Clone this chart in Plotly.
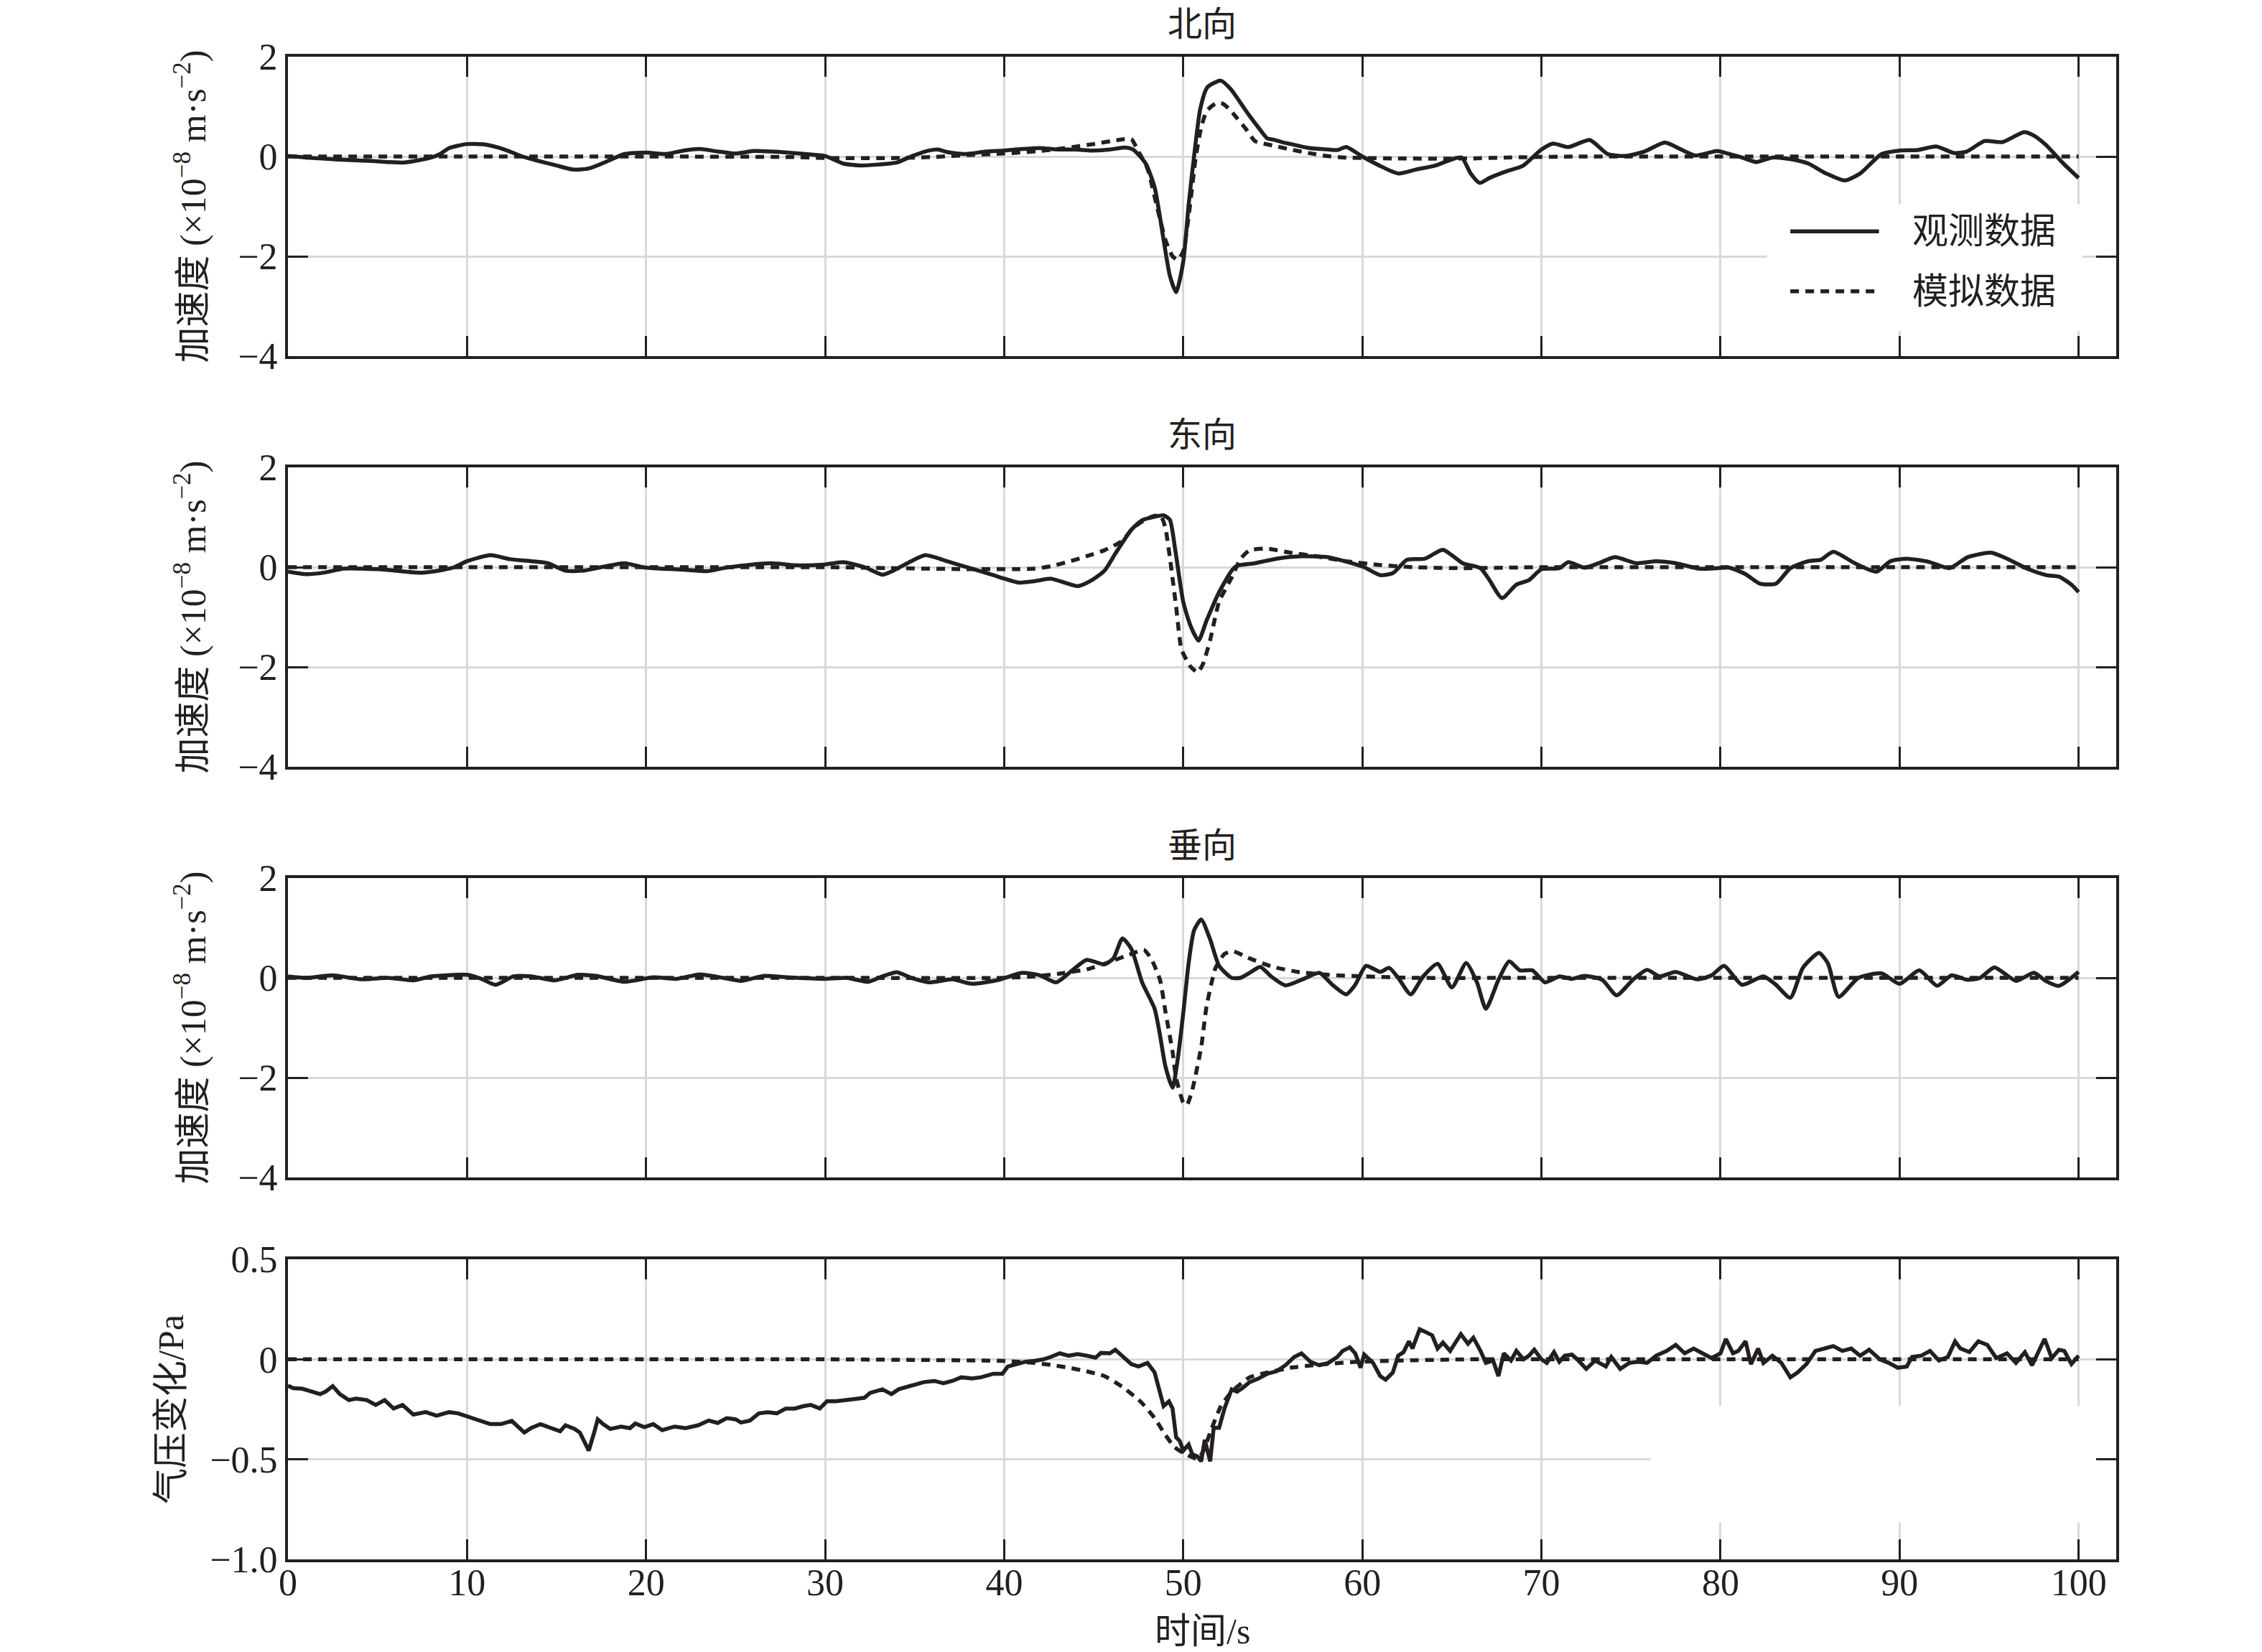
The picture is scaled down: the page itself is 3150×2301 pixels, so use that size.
import plotly.graph_objects as go

# ---------------- data ----------------
# Panel 1: 北向 (north)
t_n_obs = [0, 1.0, 2.8, 4.7, 6.5, 8.0, 8.5, 9.0, 10.0, 11.0, 12.1, 13.1, 14.0, 14.9, 15.9, 16.8, 17.8, 18.8,
           20.0, 21.1, 22.1, 23.0, 24.0, 25.0, 26.0, 27.0, 27.9, 28.9, 30.0, 31.0, 32.0, 33.0, 34.0, 34.8,
           35.8, 36.3, 36.8, 37.8, 39.0, 40.0, 41.0, 42.0, 43.0, 44.0, 44.9, 45.9, 46.7, 47.2, 47.9, 48.4,
           48.9, 49.25, 49.6, 50.0, 50.3, 50.6, 50.95, 51.35, 52.1, 52.65, 53.15, 53.65, 54.2, 54.7, 55.0,
           55.5, 56.0, 57.05, 58.1, 58.6, 59.1, 60.0, 61.0, 62.0, 63.0, 64.0, 65.05, 65.55, 66.05, 66.55,
           67.1, 68.1, 68.95, 70.0, 70.65, 71.5, 72.7, 73.7, 74.7, 75.75, 76.9, 77.8, 78.6, 79.8, 80.3,
           81.2, 82.0, 82.9, 84.05, 84.9, 85.9, 86.95, 87.8, 89.0, 90.0, 91.0, 92.05, 93.05, 93.75, 94.75,
           95.75, 96.95, 97.45, 98.15, 99.15, 100.0]
v_n_obs = [0.01, -0.02, -0.06, -0.09, -0.12, -0.02, 0.05, 0.17, 0.25, 0.24, 0.14, 0.0, -0.09, -0.17, -0.26,
           -0.24, -0.10, 0.05, 0.08, 0.05, 0.12, 0.15, 0.10, 0.06, 0.11, 0.10, 0.08, 0.05, 0.01, -0.14, -0.18,
           -0.16, -0.12, 0.0, 0.12, 0.14, 0.09, 0.05, 0.10, 0.12, 0.15, 0.17, 0.14, 0.14, 0.12, 0.14, 0.18,
           0.14, -0.14, -0.62, -1.67, -2.39, -2.72, -2.1, -0.96, 0.0, 0.96, 1.39, 1.52, 1.35, 1.10, 0.84, 0.58,
           0.36, 0.34, 0.29, 0.25, 0.17, 0.14, 0.13, 0.19, 0.0, -0.19, -0.34, -0.26, -0.19, -0.05, -0.02,
           -0.34, -0.53, -0.43, -0.29, -0.19, 0.14, 0.26, 0.19, 0.33, 0.05, 0.01, 0.10, 0.28, 0.14, 0.02,
           0.11, 0.07, -0.02, -0.11, -0.02, -0.06, -0.14, -0.34, -0.48, -0.34, 0.05, 0.12, 0.13, 0.20, 0.07,
           0.10, 0.31, 0.29, 0.49, 0.43, 0.24, -0.14, -0.43]
t_n_sim = [0, 10, 20, 28, 30, 34, 36, 38, 40, 42, 43, 44, 45, 46, 46.7, 47.1, 47.5, 48.0, 48.5, 49.0, 49.4,
           49.7, 50.0, 50.3, 50.7, 51.0, 51.3, 51.8, 52.2, 52.6, 53.0, 53.5, 54.0, 55.0, 56.0, 57.0, 58.0,
           59.0, 62, 66, 68, 72, 80, 90, 100]
v_n_sim = [0, 0, 0, -0.01, -0.03, -0.03, -0.01, 0.03, 0.06, 0.11, 0.15, 0.2, 0.25, 0.31, 0.35, 0.35, 0.1,
           -0.24, -0.96, -1.67, -2.0, -2.07, -1.9, -1.2, 0.0, 0.58, 0.91, 1.06, 1.06, 0.94, 0.77, 0.55, 0.31,
           0.22, 0.14, 0.07, 0.01, -0.02, -0.04, -0.04, -0.02, 0, 0, 0, 0]

# Panel 2: 东向 (east)
t_e_obs = [0, 1.0, 2.0, 3.1, 4.1, 5.1, 6.0, 7.5, 8.7, 9.3, 10.0, 11.3, 12.4, 13.6, 14.5, 15.5, 16.5, 17.5,
           18.8, 19.8, 20.8, 22.1, 23.4, 24.3, 25.3, 27.0, 28.3, 29.9, 31.0, 32.2, 33.2, 33.8, 34.8, 35.6,
           36.8, 38.1, 39.4, 40.0, 40.8, 41.7, 42.6, 44.1, 44.8, 45.6, 46.2, 47.1, 47.7, 48.4, 48.9, 49.25,
           49.55, 50.0, 50.4, 50.85, 51.3, 52.0, 52.7, 53.0, 54.0, 55.2, 56.6, 58.1, 59.4, 60.1, 61.0, 61.7,
           62.5, 63.5, 64.5, 65.6, 66.6, 67.1, 67.8, 68.6, 69.3, 70.0, 71.0, 71.5, 72.4, 73.2, 74.1, 75.3,
           76.4, 77.5, 78.8, 79.8, 80.5, 81.4, 82.2, 83.1, 83.9, 84.9, 85.6, 86.3, 87.5, 88.7, 89.5, 90.4,
           91.6, 92.8, 93.8, 95.1, 96.0, 97.2, 98.2, 98.9, 99.6, 100.0]
v_e_obs = [-0.09, -0.14, -0.11, -0.03, -0.03, -0.04, -0.07, -0.11, -0.05, 0.0, 0.12, 0.24, 0.16, 0.12, 0.08,
           -0.07, -0.07, 0.0, 0.08, 0.0, -0.03, -0.05, -0.08, -0.02, 0.03, 0.08, 0.04, 0.05, 0.10, 0.0, -0.15,
           -0.07, 0.12, 0.24, 0.12, -0.02, -0.16, -0.23, -0.31, -0.28, -0.23, -0.38, -0.28, -0.07, 0.27, 0.75,
           0.94, 1.01, 1.04, 0.95, 0.35, -0.7, -1.17, -1.47, -1.07, -0.50, -0.07, 0.03, 0.08, 0.17, 0.22, 0.20,
           0.08, 0.0, -0.16, -0.12, 0.15, 0.17, 0.35, 0.08, -0.02, -0.26, -0.62, -0.35, -0.26, -0.04, -0.02,
           0.10, -0.01, 0.08, 0.20, 0.08, 0.12, 0.08, -0.03, -0.02, -0.01, -0.14, -0.33, -0.33, -0.02, 0.12,
           0.15, 0.31, 0.08, -0.09, 0.12, 0.17, 0.11, -0.02, 0.20, 0.29, 0.17, -0.04, -0.16, -0.19, -0.35,
           -0.50]
t_e_sim = [0, 10, 20, 30, 34, 38, 40.5, 41.7, 42.6, 43.6, 44.6, 45.6, 46.6, 47.2, 47.9, 48.4, 48.75, 49.0,
           49.25, 49.6, 49.9, 50.4, 50.8, 51.1, 51.5, 52.0, 52.7, 53.2, 53.7, 54.7, 56.0, 57.4, 59.1, 60.8,
           62.8, 65.6, 70, 80, 90, 100]
v_e_sim = [0, 0, 0, 0, -0.02, -0.04, -0.04, -0.03, 0.02, 0.11, 0.22, 0.34, 0.53, 0.79, 0.96, 1.03, 1.03,
           0.79, 0.2, -0.79, -1.65, -1.99, -2.11, -1.94, -1.46, -0.69, -0.21, 0.17, 0.34, 0.37, 0.29, 0.22,
           0.12, 0.05, 0.0, -0.02, 0, 0, 0, 0]

# Panel 3: 垂向 (vertical)
t_u_obs = [0, 1.0, 2.5, 4.1, 5.6, 7.0, 8.0, 10.0, 10.8, 11.6, 12.6, 13.6, 14.9, 16.2, 17.2, 18.8, 20.4, 21.7,
           23.0, 24.3, 25.3, 26.6, 27.9, 29.9, 31.2, 32.4, 33.2, 34.0, 34.8, 35.8, 37.1, 38.2, 39.7, 41.0,
           42.0, 42.9, 43.8, 44.6, 45.6, 46.1, 46.6, 47.1, 47.7, 48.4, 48.7, 49.0, 49.4, 49.7, 50.0, 50.3,
           50.6, 51.0, 51.5, 52.0, 52.7, 53.2, 53.7, 54.3, 54.9, 55.7, 56.6, 57.6, 58.3, 59.1, 59.6, 60.2,
           61.0, 61.5, 62.0, 62.7, 63.4, 64.2, 65.0, 65.8, 66.4, 66.9, 67.6, 68.2, 68.8, 69.5, 70.2, 71.0,
           71.7, 72.4, 73.4, 74.2, 75.1, 75.9, 76.6, 77.5, 78.7, 79.5, 80.2, 81.2, 82.4, 83.1, 83.9, 84.6,
           85.5, 86.0, 86.6, 87.7, 89.0, 90.0, 91.1, 92.1, 92.9, 93.8, 94.5, 95.3, 96.5, 97.5, 98.2, 98.9,
           100.0]
v_u_obs = [0.03, 0.0, 0.05, -0.03, 0.0, -0.05, 0.03, 0.06, -0.02, -0.14, 0.03, 0.03, -0.05, 0.06, 0.04, -0.08,
           0.01, -0.02, 0.07, 0.0, -0.06, 0.04, 0.01, -0.02, 0.0, -0.08, 0.03, 0.11, 0.0, -0.09, -0.03, -0.12,
           -0.04, 0.10, 0.05, -0.09, 0.15, 0.36, 0.27, 0.39, 0.79, 0.58, -0.09, -0.62, -1.15, -1.77, -2.20,
           -1.6, -0.7, 0.3, 0.95, 1.17, 0.77, 0.24, 0.0, 0.0, 0.10, 0.22, 0.03, -0.15, -0.04, 0.10, -0.13,
           -0.33, -0.14, 0.24, 0.12, 0.20, 0.0, -0.33, 0.03, 0.28, -0.19, 0.30, -0.09, -0.62, -0.04, 0.33,
           0.15, 0.15, -0.09, 0.03, -0.02, 0.04, -0.04, -0.35, -0.04, 0.16, 0.03, 0.12, -0.03, 0.05, 0.24,
           -0.14, 0.03, -0.14, -0.40, 0.20, 0.50, 0.29, -0.38, 0.0, 0.09, -0.12, 0.15, -0.16, 0.05, -0.04,
           0.0, 0.21, -0.06, 0.10, -0.07, -0.16, 0.12]
t_u_sim = [0, 10, 20, 30, 40, 41.7, 43.0, 44.6, 45.9, 47.1, 47.8, 48.2, 48.7, 49.0, 49.4, 49.6, 50.0, 50.2,
           50.5, 51.0, 51.3, 51.8, 52.3, 52.8, 53.7, 55.0, 56.4, 58.1, 60.1, 62.8, 70, 80, 90, 100]
v_u_sim = [0, 0, 0, 0, 0.0, 0.03, 0.08, 0.17, 0.32, 0.48, 0.56, 0.39, -0.04, -0.67, -1.48, -2.01, -2.5,
           -2.55, -2.25, -1.39, -0.57, 0.20, 0.48, 0.53, 0.39, 0.22, 0.12, 0.06, 0.03, 0.0, 0, 0, 0, 0]

# Panel 4: 气压变化 (pressure change)
t_p_obs = [0, 0.3, 0.8, 1.3, 1.8, 2.1, 2.5, 2.9, 3.4, 3.8, 4.4, 4.9, 5.4, 5.9, 6.4, 7.0, 7.7, 8.3, 9.0, 9.5,
           10.1, 10.8, 11.3, 11.9, 12.5, 13.2, 13.6, 14.1, 14.7, 15.2, 15.5, 16.0, 16.3, 16.6, 16.8, 17.1,
           17.3, 17.6, 18.0, 18.6, 19.1, 19.4, 19.9, 20.4, 20.9, 21.6, 22.2, 22.9, 23.5, 24.0, 24.5, 25.0,
           25.3, 25.8, 26.3, 26.8, 27.3, 27.8, 28.3, 28.8, 29.2, 29.7, 30.1, 30.6, 31.0, 31.7, 32.2, 32.5,
           33.2, 33.7, 34.1, 34.8, 35.5, 36.1, 36.6, 37.1, 37.6, 38.2, 38.7, 39.4, 39.9, 40.2, 40.7, 41.2,
           41.7, 42.2, 42.6, 43.1, 43.6, 44.1, 44.6, 45.1, 45.4, 45.9, 46.2, 46.6, 47.1, 47.5, 48.0, 48.4,
           48.7, 48.9, 49.2, 49.4, 49.6, 49.8, 50.0, 50.3, 50.5, 50.8, 51.0, 51.2, 51.5, 51.7, 52.0, 52.3,
           52.7, 53.0, 53.3, 53.7, 54.2, 54.7, 55.2, 55.7, 56.2, 56.6, 57.1, 57.6, 58.1, 58.6, 58.9, 59.3,
           59.6, 59.9, 60.1, 60.6, 61.0, 61.3, 61.7, 62.0, 62.3, 62.6, 62.8, 63.2, 63.5, 63.9, 64.2, 64.5,
           64.9, 65.2, 65.5, 65.9, 66.2, 66.6, 66.9, 67.3, 67.6, 67.9, 68.3, 68.6, 69.0, 69.3, 69.6, 70.0,
           70.3, 70.7, 71.0, 71.3, 71.7, 72.0, 72.5, 73.0, 73.6, 73.9, 74.4, 74.9, 75.4, 75.9, 76.4, 77.0,
           77.5, 78.0, 78.5, 79.0, 79.5, 80.0, 80.3, 80.7, 81.0, 81.4, 81.7, 82.1, 82.4, 82.9, 83.4, 83.9,
           84.3, 84.8, 85.3, 85.8, 86.3, 86.8, 87.3, 87.8, 88.3, 88.9, 89.4, 89.9, 90.4, 90.7, 91.2, 91.7,
           92.2, 92.7, 93.1, 93.4, 93.9, 94.4, 94.9, 95.4, 96.0, 96.5, 97.0, 97.4, 97.8, 98.1, 98.5, 98.9,
           99.2, 99.6, 100.0]
v_p_obs = [-0.132, -0.144, -0.147, -0.162, -0.174, -0.162, -0.134, -0.174, -0.204, -0.196, -0.204, -0.228,
           -0.204, -0.246, -0.228, -0.276, -0.264, -0.282, -0.264, -0.270, -0.288, -0.306, -0.324, -0.324,
           -0.308, -0.366, -0.342, -0.324, -0.342, -0.360, -0.330, -0.348, -0.366, -0.414, -0.456, -0.366,
           -0.300, -0.324, -0.348, -0.336, -0.344, -0.321, -0.339, -0.324, -0.354, -0.336, -0.344, -0.330,
           -0.306, -0.318, -0.294, -0.300, -0.316, -0.306, -0.270, -0.264, -0.270, -0.246, -0.246, -0.234,
           -0.228, -0.246, -0.210, -0.210, -0.204, -0.198, -0.192, -0.168, -0.150, -0.174, -0.150, -0.132,
           -0.114, -0.108, -0.120, -0.108, -0.090, -0.096, -0.090, -0.072, -0.072, -0.036, -0.024, -0.012,
           -0.008, 0.0, 0.012, 0.030, 0.018, 0.026, 0.018, 0.008, 0.032, 0.030, 0.048, 0.018, -0.024, -0.036,
           -0.018, -0.066, -0.174, -0.234, -0.210, -0.246, -0.390, -0.408, -0.456, -0.426, -0.474, -0.486,
           -0.510, -0.402, -0.510, -0.342, -0.342, -0.246, -0.150, -0.162, -0.144, -0.114, -0.096, -0.072,
           -0.060, -0.030, 0.012, 0.030, -0.012, -0.030, -0.018, 0.012, 0.042, 0.060, 0.030, -0.042, 0.024,
           -0.018, -0.084, -0.102, -0.066, 0.018, 0.036, 0.090, 0.054, 0.150, 0.138, 0.120, 0.054, 0.084,
           0.042, 0.084, 0.126, 0.078, 0.108, 0.042, -0.018, -0.006, -0.084, 0.030, -0.006, 0.042, 0.0, 0.018,
           0.048, 0.0, -0.018, 0.036, -0.012, 0.018, 0.024, 0.0, -0.048, -0.006, -0.036, 0.012, -0.048, -0.018,
           -0.012, -0.018, 0.018, 0.042, 0.072, 0.030, 0.054, 0.030, 0.006, 0.030, 0.102, 0.030, 0.042, 0.090,
           -0.024, 0.054, -0.018, 0.018, -0.018, -0.090, -0.066, -0.024, 0.042, 0.054, 0.066, 0.042, 0.054,
           0.018, 0.048, 0.0, -0.018, -0.042, -0.036, 0.012, 0.018, 0.042, -0.006, 0.012, 0.090, 0.054, 0.036,
           0.090, 0.072, 0.006, 0.030, -0.018, 0.036, -0.030, 0.048, 0.102, 0.006, 0.048, 0.042, -0.024, 0.018]
t_p_sim = [0, 10, 20, 30, 35, 38.7, 39.9, 41.7, 42.6, 43.6, 44.6, 45.6, 46.6, 47.6, 48.4, 49.0, 49.5, 50.0,
           50.4, 50.8, 51.1, 51.6, 52.1, 52.7, 53.7, 54.7, 56.0, 57.4, 59.4, 62.2, 66, 70, 80, 90, 100]
v_p_sim = [0, 0, 0, 0, -0.003, -0.006, -0.008, -0.018, -0.028, -0.042, -0.060, -0.084, -0.138, -0.210,
           -0.294, -0.378, -0.438, -0.468, -0.485, -0.498, -0.462, -0.342, -0.234, -0.162, -0.090, -0.066,
           -0.042, -0.028, -0.014, -0.006, 0, 0, 0, 0, 0]

panel_titles = ["北向", "东向", "垂向", ""]
acc_label = "加速度 (×10<sup>−8</sup> m·s<sup>−2</sup>)"
y_labels = [acc_label, acc_label, acc_label, "气压变化/Pa"]
y_ranges = [[-4, 2], [-4, 2], [-4, 2], [-1.0, 0.5]]
y_tickvals = [[-4, -2, 0, 2]] * 3 + [[-1.0, -0.5, 0, 0.5]]
y_ticktext = [["−4", "−2", "0", "2"]] * 3 + [["−1.0", "−0.5", "0", "0.5"]]
x_tickvals = list(range(0, 101, 10))
x_label = "时间/s"
legend_names = ["观测数据", "模拟数据"]

series = [(t_n_obs, v_n_obs, t_n_sim, v_n_sim),
          (t_e_obs, v_e_obs, t_e_sim, v_e_sim),
          (t_u_obs, v_u_obs, t_u_sim, v_u_sim),
          (t_p_obs, v_p_obs, t_p_sim, v_p_sim)]

# ---------------- styling / layout ----------------
W, H = 3150, 2301
FONT = "Liberation Serif, Noto Sans CJK SC, serif"
INK = "#231f20"
GRID = "#d9d9d9"
TICK_FS = 52
LABEL_FS = 50
DASH = "12px,9px"
LW_OBS = 5.5
LW_SIM = 5.5

x_dom = [393 / W, 2939 / W]
panel_px = [(71, 488), (643, 1060), (1215, 1632), (1746, 2164)]
y_doms = [[1 - b / H, 1 - t / H] for t, b in panel_px]

fig = go.Figure()
for i, (to, vo, ts, vs) in enumerate(series, start=1):
    xa = "x" if i == 1 else f"x{i}"
    ya = "y" if i == 1 else f"y{i}"
    smooth = dict(shape="spline", smoothing=0.6) if i < 4 else dict(shape="linear")
    fig.add_trace(go.Scatter(x=to, y=vo, mode="lines", name=legend_names[0], showlegend=False,
                             line=dict(color=INK, width=LW_OBS, **smooth), xaxis=xa, yaxis=ya))
    fig.add_trace(go.Scatter(x=ts, y=vs, mode="lines", name=legend_names[1], showlegend=False,
                             line=dict(color=INK, width=LW_SIM, dash=DASH, shape="spline", smoothing=0.5),
                             xaxis=xa, yaxis=ya))

layout = dict(width=W, height=H, margin=dict(l=0, r=0, t=0, b=0), paper_bgcolor="white",
              plot_bgcolor="white", template="none", showlegend=False,
              font=dict(family=FONT, color=INK, size=LABEL_FS))
common = dict(showline=True, linecolor=INK, linewidth=4, mirror="ticks", ticks="inside", ticklen=28,
              tickwidth=3, tickcolor=INK, showgrid=True, gridcolor=GRID, gridwidth=2.5, zeroline=False,
              automargin=False, tickfont=dict(family=FONT, size=TICK_FS, color=INK))
for i in range(1, 5):
    xk = "xaxis" if i == 1 else f"xaxis{i}"
    yk = "yaxis" if i == 1 else f"yaxis{i}"
    layout[xk] = dict(common, domain=x_dom, range=[0, 102.1], anchor="y" if i == 1 else f"y{i}",
                      tickmode="array", tickvals=x_tickvals, showticklabels=(i == 4),
                      ticklabelstandoff=-16)
    layout[yk] = dict(common, domain=y_doms[i - 1], range=y_ranges[i - 1], anchor="x" if i == 1 else f"x{i}",
                      tickmode="array", tickvals=y_tickvals[i - 1], ticktext=y_ticktext[i - 1],
                      title=dict(text=y_labels[i - 1], font=dict(family=FONT, size=LABEL_FS, color=INK),
                                 standoff=30 if i < 4 else 22))
fig.update_layout(**layout)

xc = (x_dom[0] + x_dom[1]) / 2
annotations = []
for i, ttl in enumerate(panel_titles):
    if ttl:
        top = panel_px[i][0]
        annotations.append(dict(text=ttl, x=xc, y=1 - (top - 46) / H, xref="paper", yref="paper",
                                xanchor="center", yanchor="middle", showarrow=False,
                                font=dict(family=FONT, size=48, color=INK)))
annotations.append(dict(text=x_label, x=xc, y=1 - 2264 / H, xref="paper", yref="paper",
                        xanchor="center", yanchor="middle", showarrow=False,
                        font=dict(family=FONT, size=LABEL_FS, color=INK)))

# legend (drawn by hand so the line samples have the reference's length)
leg_rows = [-1.5, -2.7]
shapes = [
    dict(type="rect", xref="x", yref="y", x0=82.6, x1=100.2, y0=-3.5, y1=-0.96, layer="between",
         fillcolor="white", line=dict(width=0)),
    dict(type="rect", xref="x4", yref="y4", x0=76.1, x1=101.5, y0=-0.815, y1=-0.234, layer="between",
         fillcolor="white", line=dict(width=0)),
    dict(type="line", xref="x", yref="y", x0=83.9, x1=88.85, y0=leg_rows[0], y1=leg_rows[0],
         line=dict(color=INK, width=LW_OBS)),
    dict(type="line", xref="x", yref="y", x0=83.9, x1=88.85, y0=leg_rows[1], y1=leg_rows[1],
         line=dict(color=INK, width=LW_SIM, dash=DASH)),
]
for name, yv in zip(legend_names, leg_rows):
    annotations.append(dict(text=name, x=90.65, y=yv, xref="x", yref="y", xanchor="left", yanchor="middle",
                            showarrow=False, font=dict(family=FONT, size=LABEL_FS, color=INK)))

fig.update_layout(annotations=annotations, shapes=shapes)
fig.write_html("out.html")
